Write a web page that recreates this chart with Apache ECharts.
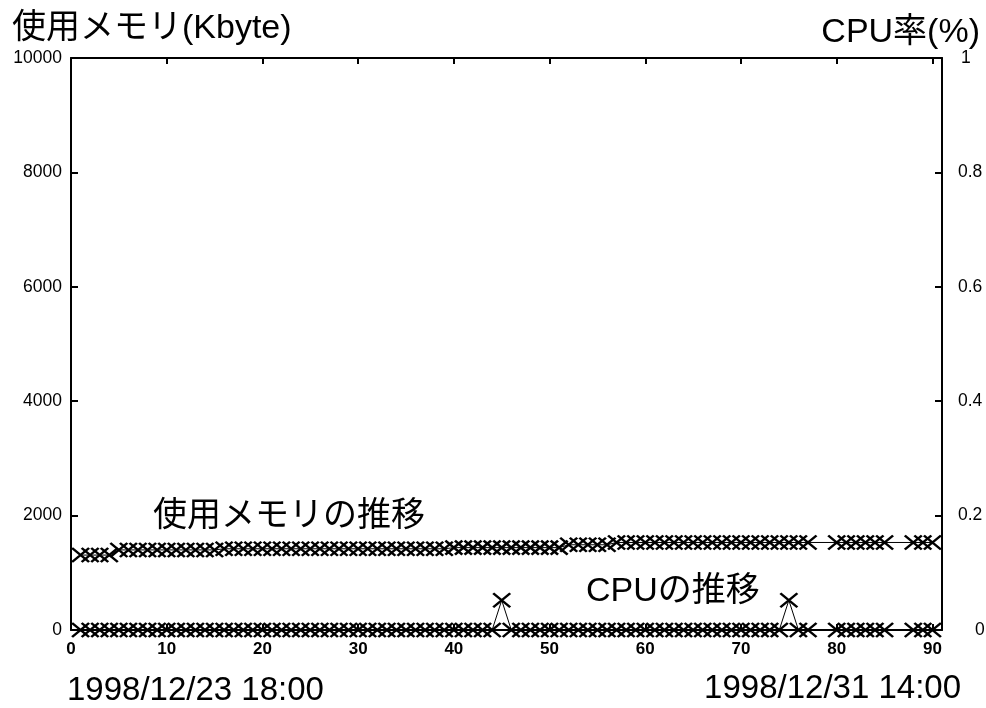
<!DOCTYPE html>
<html><head><meta charset="utf-8">
<script src="https://cdn.jsdelivr.net/npm/echarts@6/dist/echarts.min.js"></script>
<style>html,body{margin:0;padding:0;background:#fff}#c{width:986px;height:708px}</style>
</head><body><div id="c"></div>
<script>
// sample index (x axis)
const sampleX = [
  1,2,3,4,5,6,7,8,9,10,
  11,12,13,14,15,16,17,18,19,20,
  21,22,23,24,25,26,27,28,29,30,
  31,32,33,34,35,36,37,38,39,40,
  41,42,43,44,45,46,47,48,49,50,
  51,52,53,54,55,56,57,58,59,60,
  61,62,63,64,65,66,67,68,69,70,
  71,72,73,74,75,76,77,80,81,82,
  83,84,85,88,89,90
];
// memory used (Kbyte)
const memValues = [
  1310,1310,1310,1310,1400,1400,1400,1400,1400,1400,
  1400,1400,1400,1400,1400,1420,1420,1420,1420,1420,
  1420,1420,1420,1420,1420,1420,1420,1420,1420,1420,
  1420,1420,1420,1420,1420,1420,1420,1420,1420,1440,
  1440,1440,1440,1440,1440,1440,1440,1440,1440,1440,
  1440,1490,1490,1490,1490,1490,1530,1530,1530,1530,
  1530,1530,1530,1530,1530,1530,1530,1530,1530,1530,
  1530,1530,1530,1530,1530,1530,1530,1530,1530,1530,
  1530,1530,1530,1530,1530,1530
];
// CPU rate
const cpuValues = [
  0,0,0,0,0,0,0,0,0,0,
  0,0,0,0,0,0,0,0,0,0,
  0,0,0,0,0,0,0,0,0,0,
  0,0,0,0,0,0,0,0,0,0,
  0,0,0,0,0.052,0,0,0,0,0,
  0,0,0,0,0,0,0,0,0,0,
  0,0,0,0,0,0,0,0,0,0,
  0,0,0,0,0.052,0,0,0,0,0,
  0,0,0,0,0,0
];
const xMin = 0, xMax = 91, xStep = 10;
const memMin = 0, memMax = 10000, memStep = 2000;
const cpuMin = 0, cpuMax = 1, cpuStep = 0.2;
const titleLeft = '使用メモリ(Kbyte)';
const titleRight = 'CPU率(%)';
const memNote = '使用メモリの推移';
const cpuNote = 'CPUの推移';
const startDate = '1998/12/23 18:00';
const endDate = '1998/12/31 14:00';

const FF = '"Liberation Sans", "Noto Sans CJK JP", sans-serif';
const memData = sampleX.map((x, i) => [x, memValues[i]]);
const cpuData = sampleX.map((x, i) => [x, cpuValues[i]]);

const axisLine = { show: true, onZero: false, lineStyle: { color: '#000', width: 2 } };
const tick = (len) => ({ show: true, inside: true, length: len, lineStyle: { color: '#000', width: 2 } });
const crossSym = 'path://M0,0L10,10M10,0L0,10';

const seriesBase = {
  type: 'line',
  symbol: crossSym,
  symbolSize: [17, 14],
  showAllSymbol: true,
  clip: true,
  lineStyle: { color: '#000', width: 1 },
  itemStyle: { color: 'none', borderColor: '#000', borderWidth: 2.4 },
  emphasis: { disabled: true },
  z: 3
};

const chart = echarts.init(document.getElementById('c'), null, { renderer: 'canvas' });
chart.setOption({
  animation: false,
  backgroundColor: '#fff',
  grid: { left: 71, right: 44, top: 58, bottom: 78, containLabel: false, outerBoundsMode: 'none' },
  xAxis: [
    { type: 'value', position: 'bottom', min: xMin, max: xMax, interval: xStep,
      axisLine, axisTick: tick(6), splitLine: { show: false },
      axisLabel: { show: true, showMaxLabel: false, margin: 11, color: '#000',
        fontFamily: FF, fontSize: 17, fontWeight: 'bold' } },
    { type: 'value', position: 'top', min: xMin, max: xMax, interval: xStep,
      axisLine, axisTick: tick(6), splitLine: { show: false },
      axisLabel: { show: false } }
  ],
  yAxis: [
    { type: 'value', position: 'left', min: memMin, max: memMax, interval: memStep,
      axisLine, axisTick: tick(7), splitLine: { show: false },
      axisLabel: { margin: 9, color: '#000', fontFamily: FF, fontSize: 17.5,
        formatter: (v) => String(v) } },
    { type: 'value', position: 'right', min: cpuMin, max: cpuMax, interval: cpuStep,
      axisLine, axisTick: tick(7), splitLine: { show: false },
      axisLabel: { margin: 16, color: '#000', fontFamily: FF, fontSize: 17.5,
        formatter: (v) => {
          const s = String(Math.round(v * 10) / 10);
          if (v === 0) return '{z|' + s + '}';
          if (s === '1') return '{o|' + s + '}';
          return s;
        },
        rich: {
          z: { padding: [0, 0, 0, 17], fontFamily: FF, fontSize: 17.5, color: '#000' },
          o: { padding: [0, 0, 0, 3], fontFamily: FF, fontSize: 17.5, color: '#000' }
        } } }
  ],
  series: [
    Object.assign({}, seriesBase, { name: 'mem', xAxisIndex: 0, yAxisIndex: 0, data: memData }),
    Object.assign({}, seriesBase, { name: 'cpu', xAxisIndex: 0, yAxisIndex: 1, data: cpuData })
  ],
  graphic: [
    { type: 'text', x: 12, y: 29, style: { text: titleLeft, font: '34px ' + FF, fill: '#000',
      textAlign: 'left', textVerticalAlign: 'middle', align: 'left', verticalAlign: 'middle' } },
    { type: 'text', x: 980, y: 33, style: { text: titleRight, font: '34px ' + FF, fill: '#000',
      textAlign: 'right', textVerticalAlign: 'middle', align: 'right', verticalAlign: 'middle' } },
    { type: 'text', x: 153, y: 517, style: { text: memNote, font: '34px ' + FF, fill: '#000',
      textAlign: 'left', textVerticalAlign: 'middle', align: 'left', verticalAlign: 'middle' } },
    { type: 'text', x: 586, y: 592, style: { text: cpuNote, font: '34px ' + FF, fill: '#000',
      textAlign: 'left', textVerticalAlign: 'middle', align: 'left', verticalAlign: 'middle' } },
    { type: 'text', x: 67, y: 691, style: { text: startDate, font: '33px ' + FF, fill: '#000',
      textAlign: 'left', textVerticalAlign: 'middle', align: 'left', verticalAlign: 'middle' } },
    { type: 'text', x: 961, y: 689, style: { text: endDate, font: '33px ' + FF, fill: '#000',
      textAlign: 'right', textVerticalAlign: 'middle', align: 'right', verticalAlign: 'middle' } }
  ]
});
</script>
</body></html>
